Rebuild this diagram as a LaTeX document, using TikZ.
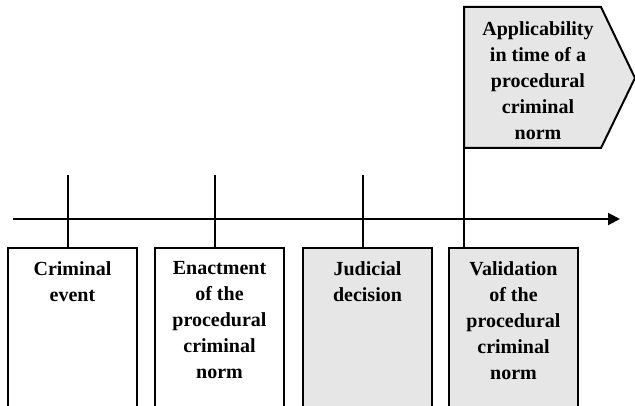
\documentclass[tikz,border=0pt]{standalone}
\usepackage{fontspec}
\setmainfont{Liberation Serif}
\usetikzlibrary{arrows.meta,calc}
\definecolor{panelgray}{RGB}{230,230,230}
\tikzset{
  stroke/.style={line width=2pt, draw=black},
  evbox/.style={stroke, rectangle, anchor=north west, minimum width=129pt,
                minimum height=200pt, inner sep=0pt},
  plainbox/.style={evbox, fill=white},
  shadebox/.style={evbox, fill=panelgray},
  label/.style={anchor=north, inner sep=0pt, align=center,
                font=\fontsize{20}{26}\selectfont\bfseries},
}
\begin{document}
\begin{tikzpicture}[x=1pt, y=-1pt]
  \useasboundingbox (0,0) rectangle (635,406);

  % time axis
  \coordinate (axs) at (13,219);
  \coordinate (axe) at (620,219);
  \draw[stroke, -{Triangle[length=12pt,width=12pt]}] (axs) -- (axe);

  % event boxes (open towards the bottom of the page)
  \node[plainbox] (b1) at (7,247) {};
  \node[plainbox] (b2) at (154,247) {};
  \node[shadebox] (b3) at (302,247) {};
  \node[shadebox] (b4) at (448,247) {};

  \node[label] (l1) at ($(b1.north)+(0,14)$) {Criminal\\event};
  \node[label] (l2) at ($(b2.north)+(0,14)$) {Enactment\\of the\\procedural\\criminal\\norm};
  \node[label] (l3) at ($(b3.north)+(0,14)$) {Judicial\\decision};
  \node[label] (l4) at ($(b4.north)+(0,14)$) {Validation\\of the\\procedural\\criminal\\norm};

  % tick marks crossing the axis
  \coordinate (t1) at (68,175);
  \coordinate (t2) at (215,175);
  \coordinate (t3) at (363,175);
  \draw[stroke] (t1) -- (t1 |- b1.north);
  \draw[stroke] (t2) -- (t2 |- b2.north);
  \draw[stroke] (t3) -- (t3 |- b3.north);

  % applicability flag
  \coordinate (f1) at (464,7);
  \coordinate (f2) at (601,7);
  \coordinate (f3) at (635,78);
  \coordinate (f4) at (601,148);
  \coordinate (f5) at (464,148);
  \draw[stroke, fill=panelgray] (f1) -- (f2) -- (f3) -- (f4) -- (f5) -- cycle;
  \node[label] (lf) at (538,21.5) {Applicability\\in time of a\\procedural\\criminal\\norm};
  \draw[stroke] (f5) -- (f5 |- b4.north);
\end{tikzpicture}
\end{document}
